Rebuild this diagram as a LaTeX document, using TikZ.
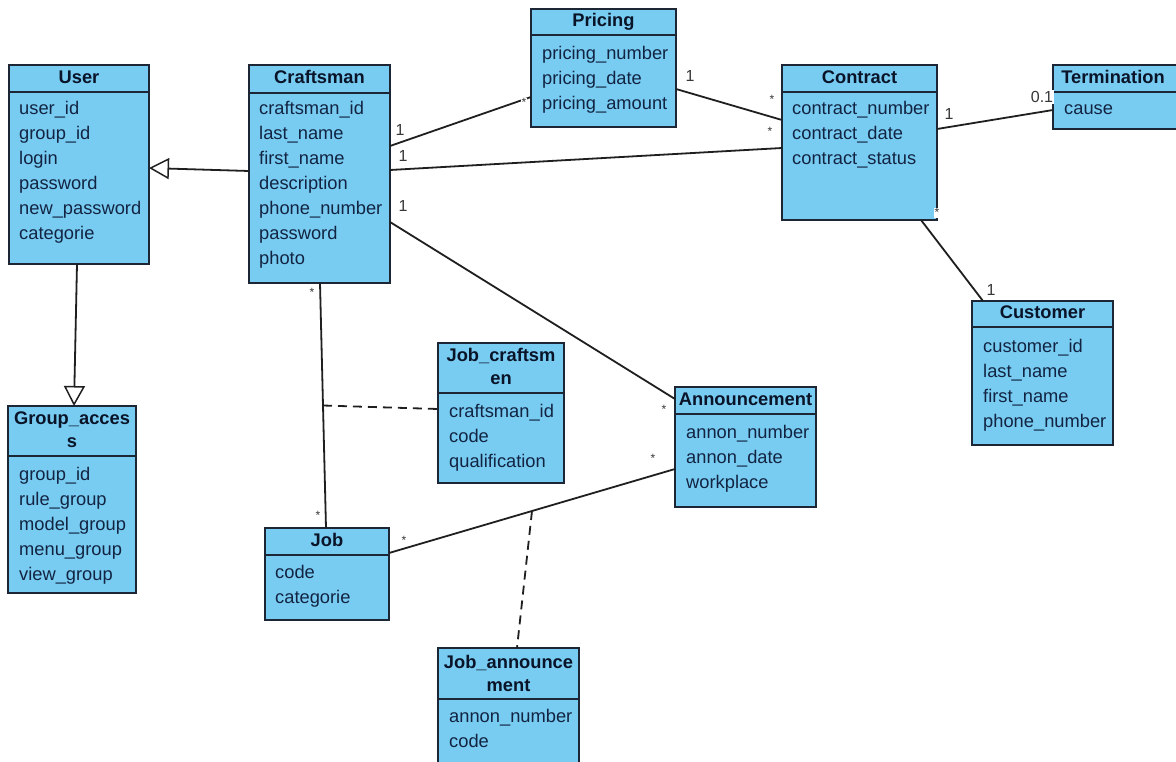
\documentclass[tikz,border=0pt]{standalone}
\usepackage{fontspec}
\setmainfont{Liberation Sans}
\usetikzlibrary{arrows.meta,calc}
\definecolor{boxfill}{RGB}{120,204,242}
\definecolor{boxline}{RGB}{28,38,52}
\definecolor{txt}{RGB}{18,36,66}
\definecolor{hdrtxt}{RGB}{10,20,40}
\definecolor{lbl}{RGB}{55,55,55}
\tikzset{
  classbox/.style={draw=boxline, line width=1.7pt, fill=boxfill, inner sep=0pt, outer sep=0pt},
  classline/.style={draw=boxline, line width=1.7pt},
  attr/.style={font=\fontsize{18.3}{22}\selectfont, text=txt, inner sep=0pt, anchor=base west},
  hdr/.style={font=\fontsize{18.3}{22}\selectfont\bfseries, text=hdrtxt, inner sep=0pt, anchor=base},
  assoc/.style={draw=black!88, line width=1.8pt},
  dashassoc/.style={assoc, dash pattern=on 9pt off 6pt},
  gen/.style={assoc, -{Triangle[open, length=20pt, width=21pt, line width=1.5pt]}},
  mult/.style={font=\fontsize{16}{18}\selectfont, text=lbl, inner sep=0pt},
  star/.style={font=\fontsize{12}{14}\selectfont, text=lbl, inner sep=0pt, anchor=base},
  whitebg/.style={fill=white, inner sep=1pt},
}
\newcommand\umlbox[6]{%
  \node[classbox, minimum width={(#4-#2)*1pt}, minimum height={(#5-#3)*1pt}, anchor=north west] (#1) at (#2,#3) {};
  \draw[classline] (#2,#6) -- (#4,#6);
}
\newcommand\attrlist[4]{%
  \foreach \t [count=\i from 0] in {#4} {\node[attr, name=#1-\i] at (#2,{#3+25*\i}) {\t};}
}
\begin{document}
\begin{tikzpicture}[x=1pt,y=-1pt]
\fill[white] (0,0) rectangle (1176,762);
\useasboundingbox (0,0) rectangle (1176,762);

% boxes
\umlbox{user}{9}{65}{149}{264}{92}
\umlbox{craftsman}{249}{65}{390}{283}{93}
\umlbox{pricing}{531}{9}{676}{127}{35}
\umlbox{contract}{782}{65}{937}{220}{92}
\umlbox{termination}{1053}{65}{1180}{129}{92}
\umlbox{customer}{972}{301}{1113}{445}{327}
\umlbox{group}{8}{406}{136}{593}{456}
\umlbox{job}{265}{528}{389}{620}{555}
\umlbox{jobc}{438}{343}{564}{483}{393}
\umlbox{ann}{675}{387}{816}{507}{414}
\umlbox{joba}{438}{648}{579}{772}{699}

% headers
\node[hdr] (user-h) at (79,84) {User};
\node[hdr] (craftsman-h) at (319.5,84) {Craftsman};
\node[hdr] (pricing-h) at (603.5,27) {Pricing};
\node[hdr] (contract-h) at (859.5,84) {Contract};
\node[hdr] (termination-h) at (1113,84) {Termination};
\node[hdr] (customer-h) at (1042.5,318) {Customer};
\node[hdr] (group-h1) at (72,424) {Group\_acces};
\node[hdr] (group-h2) at (72,447) {s};
\node[hdr] (job-h) at (327,546) {Job};
\node[hdr] (jobc-h1) at (501,361) {Job\_craftsm};
\node[hdr] (jobc-h2) at (501,384) {en};
\node[hdr] (ann-h) at (745.5,405) {Announcement};
\node[hdr] (joba-h1) at (508.5,668) {Job\_announce};
\node[hdr] (joba-h2) at (508.5,691) {ment};

% attributes
\attrlist{usera}{19}{115}{user\_id,group\_id,login,password,new\_password,categorie}
\attrlist{craftsmana}{259}{115}{craftsman\_id,last\_name,first\_name,description,phone\_number,password,photo}
\attrlist{pricinga}{542}{60}{pricing\_number,pricing\_date,pricing\_amount}
\attrlist{contracta}{792}{115}{contract\_number,contract\_date,contract\_status}
\attrlist{terminationa}{1064}{115}{cause}
\attrlist{customera}{983}{352}{customer\_id,last\_name,first\_name,phone\_number}
\attrlist{groupa}{19}{480}{group\_id,rule\_group,model\_group,menu\_group,view\_group}
\attrlist{joba}{275}{578}{code,categorie}
\attrlist{jobca}{449}{417}{craftsman\_id,code,qualification}
\attrlist{anna}{686}{438}{annon\_number,annon\_date,workplace}
\attrlist{jobaa}{449}{722}{annon\_number,code}

% generalizations
\draw[gen] ($(craftsman.north west)+(0,106)$) -- ($(user.north east)+(0,103)$);
\draw[gen] ($(user.south west)+(68,0)$) -- ($(group.north west)+(66,0)$);

% associations
\draw[assoc] ($(craftsman.north east)+(0,81)$) -- ($(pricing.north west)+(0,88)$);
\draw[assoc] ($(pricing.north east)+(0,80)$) -- ($(contract.north west)+(0,55)$);
\draw[assoc] ($(craftsman.north east)+(0,105)$) -- ($(contract.north west)+(0,83)$);
\draw[assoc] ($(contract.north east)+(0,64)$) -- ($(termination.north west)+(0,45)$);
\draw[assoc] ($(contract.south west)+(139,0)$) -- ($(customer.north west)+(11,0)$);
\draw[assoc] ($(craftsman.north east)+(0,157)$) -- ($(ann.north west)+(0,12)$);
\draw[assoc] ($(craftsman.south west)+(71,0)$) -- coordinate[pos=0.5] (cjmid) ($(job.north west)+(61,0)$);
\draw[assoc] ($(job.north east)+(0,25)$) -- coordinate[pos=0.5] (jamid) ($(ann.north west)+(0,82)$);

% association classes
\draw[dashassoc] (cjmid) -- ($(jobc.north west)+(0,66)$);
\draw[dashassoc] (jamid) -- ($(joba.north west)+(79,0)$);

% multiplicities
\node[mult] (m1) at (400,130) {1};
\node[mult] (m2) at (403,156) {1};
\node[mult] (m3) at (403,206) {1};
\node[star, whitebg] (s1) at (524,107) {*};
\node[mult] (m4) at (690,76) {1};
\node[star] (s2) at (772,104) {*};
\node[star] (s3) at (770,136) {*};
\node[mult] (m5) at (949,114) {1};
\node[mult, whitebg] (m6) at (1042,97) {0.1};
\node[star, whitebg] (s4) at (937,217) {*};
\node[mult, whitebg] (m7) at (991,290) {1};
\node[star] (s5) at (312,297) {*};
\node[star] (s6) at (318,519) {*};
\node[star] (s7) at (664,413) {*};
\node[star] (s8) at (653,462) {*};
\node[star, whitebg] (s9) at (404,544) {*};
\end{tikzpicture}
\end{document}
